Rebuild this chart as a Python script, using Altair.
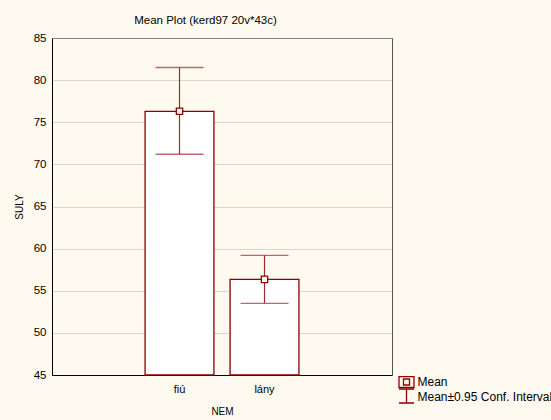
import altair as alt
import pandas as pd

categories = ["fiú", "lány"]
means = [76.3, 56.35]
ci_low = [71.2, 53.5]
ci_high = [81.5, 59.2]
x_domain = ["_a", "fiú", "lány", "_b"]
y_ticks = [45, 50, 55, 60, 65, 70, 75, 80, 85]
legend_mean = ["Mean"]
legend_ci = ["Mean±0.95 Conf. Interval"]

df = pd.DataFrame({"NEM": categories, "mean": means, "lo": ci_low, "hi": ci_high})
leg1 = pd.DataFrame({"item": legend_mean})
leg2 = pd.DataFrame({"item2": legend_ci})

BAR = "#8B0000"
ERR = "#A0282E"
FONT = "Liberation Sans"

xenc = alt.X(
    "NEM:N",
    scale=alt.Scale(domain=x_domain, paddingInner=0.19, paddingOuter=0.095),
    axis=alt.Axis(
        title="NEM", labelAngle=0, ticks=False, labelPadding=8, titlePadding=12,
        labelExpr="(datum.label == 'fiú' || datum.label == 'lány') ? datum.label : ''",
        domainColor="black", labelFontSize=11, titleFontSize=10,
        labelFont=FONT, titleFont=FONT, titleFontWeight="normal", labelColor="black", titleColor="black",
    ),
)
yscale = alt.Scale(domain=[45, 85], nice=False, zero=False)
yaxis = alt.Axis(
    title="SULY", values=y_ticks, ticks=False, labelPadding=6, titlePadding=9,
    grid=True, gridColor="#B4B4B4", gridDash=[1, 1], domainColor="black",
    labelFontSize=11.5, titleFontSize=10, labelFont=FONT, titleFont=FONT,
    titleFontWeight="normal", labelColor="black", titleColor="black",
)

base = alt.Chart(df)

bars = base.mark_bar(fill="white", stroke=BAR, strokeWidth=1.3).encode(
    x=xenc,
    y=alt.Y("mean:Q", scale=yscale, axis=yaxis),
    y2=alt.datum(45),
)
whisk = base.mark_rule(color=ERR, strokeWidth=1.2).encode(
    x="NEM:N", y="lo:Q", y2="hi:Q"
)
cap_lo = base.mark_tick(color=ERR, size=48, thickness=1.3).encode(x="NEM:N", y="lo:Q")
cap_hi = base.mark_tick(color=ERR, size=48, thickness=1.3).encode(x="NEM:N", y="hi:Q")
pts = base.mark_point(shape="square", filled=False, fill="white", stroke=BAR,
                      strokeWidth=1.3, size=40, opacity=1).encode(x="NEM:N", y="mean:Q")

path_mean = "M-1,-0.73H1V0.73H-1Z M-0.4,-0.4H0.4V0.4H-0.4Z"
path_ci = "M-1,-1.03H1 M0,-1.03V0.84 M-1,0.84H1"

legend_common = dict(
    title=None, orient="none", symbolSize=225, symbolStrokeColor=BAR,
    symbolFillColor="transparent", symbolOpacity=1, symbolStrokeWidth=1.3,
    labelFontSize=12, labelFont=FONT, labelColor="black", labelOffset=2.5, padding=0,
)

legend_layer1 = alt.Chart(leg1).mark_point(opacity=0).encode(
    shape=alt.Shape(
        "item:N",
        scale=alt.Scale(domain=legend_mean, range=[path_mean]),
        legend=alt.Legend(legendX=346, legendY=335.5, **legend_common),
    )
)
legend_layer2 = alt.Chart(leg2).mark_point(opacity=0).encode(
    color=alt.Color(
        "item2:N",
        scale=alt.Scale(domain=legend_ci, range=[BAR]),
        legend=alt.Legend(legendX=346, legendY=350.2, symbolType=path_ci, **legend_common),
    )
)

chart = alt.layer(bars, whisk, cap_lo, cap_hi, pts, legend_layer1, legend_layer2).properties(
    width=340, height=337,
    title=alt.TitleParams("Mean Plot (kerd97 20v*43c)", fontSize=11.5, font=FONT,
                          fontWeight="normal", color="black", dx=-16.5, offset=5.5),
    autosize=alt.AutoSizeParams(type="none"),
    padding={"left": 52, "top": 38, "right": 159, "bottom": 45},
    background="#FFFAEF",
).configure_view(fill="white", stroke="#555555", strokeWidth=1)

chart.save("out.html", embed_options={"renderer": "svg", "actions": False})
